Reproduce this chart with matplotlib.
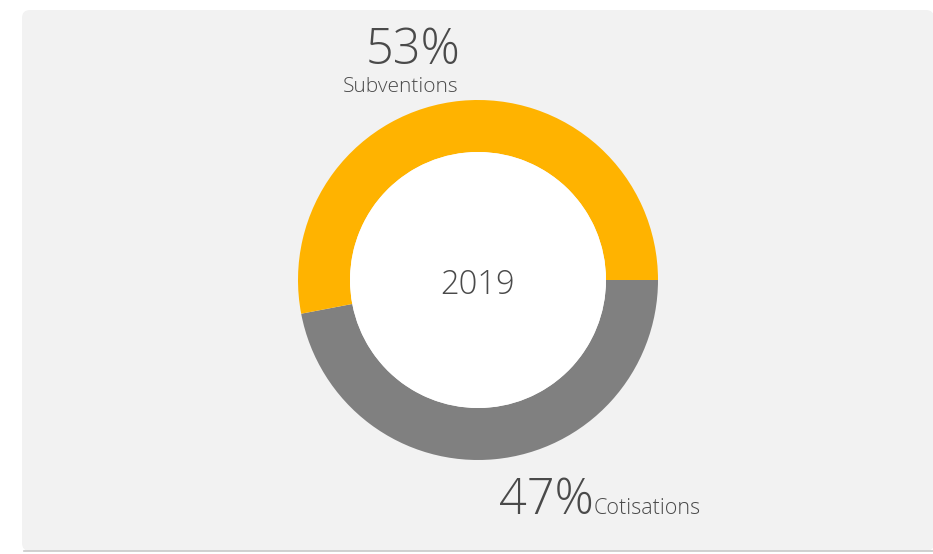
import matplotlib

matplotlib.use("Agg")
import matplotlib.pyplot as plt
from matplotlib.patches import FancyBboxPatch, Circle

plt.rcParams["font.family"] = ["Open Sans", "DejaVu Sans"]

LABELS = ["Cotisations", "Subventions"]
SHARES = [47, 53]
COLORS = ["#808080", "#FFB300"]
YEAR = "2019"

W, H = 933, 554
fig = plt.figure(figsize=(W / 100, H / 100), dpi=100)
ax = fig.add_axes([0, 0, 1, 1])
fig.patch.set_facecolor("white")

# card background
card = FancyBboxPatch((22, 3), 912, 541, boxstyle="round,pad=0,rounding_size=8",
                      facecolor="#f2f2f2", edgecolor="none", zorder=0)
ax.add_patch(card)
ax.plot([24, 933], [3, 3], color="#c8c8c8", lw=1.2, zorder=1)

cx, cy, r_out, r_in = 478, 274, 180, 128
ax.pie(SHARES, colors=COLORS, startangle=0, counterclock=False,
       center=(cx, cy), radius=r_out, frame=True,
       wedgeprops=dict(width=r_out - r_in, linewidth=0))
ax.set_xlim(0, W)
ax.set_ylim(0, H)
ax.set_aspect("equal")
ax.axis("off")
ax.add_patch(Circle((cx, cy), r_in, facecolor="white", edgecolor="none", zorder=3))

txt = "#4a4a4a"
ax.text(cx, cy - 5, YEAR, ha="center", va="center", fontsize=23.5,
        fontweight="light", color=txt, zorder=4)

# Subventions label above the ring
ax.text(413, 490, f"{SHARES[1]}%", ha="center", va="baseline", fontsize=35,
        fontweight="light", color=txt)
ax.text(401, 462, LABELS[1], ha="center", va="baseline", fontsize=15,
        fontweight="light", color=txt)

# Cotisations label below the ring
ax.text(499, 40, f"{SHARES[0]}%", ha="left", va="baseline", fontsize=35,
        fontweight="light", color=txt)
ax.text(594, 40, LABELS[0], ha="left", va="baseline", fontsize=15.5,
        fontweight="light", color=txt)

fig.savefig("out.png", dpi=100, facecolor=fig.get_facecolor())
